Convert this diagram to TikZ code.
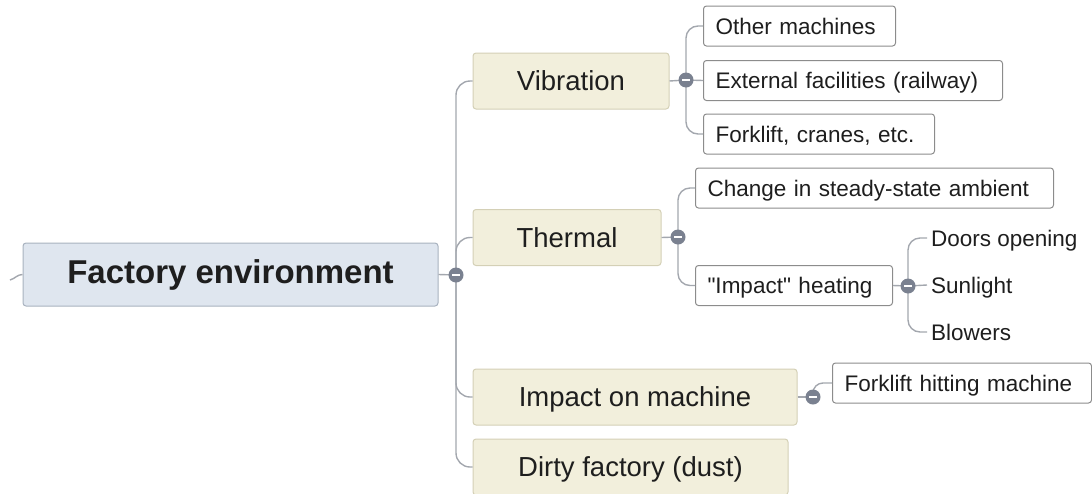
\documentclass[tikz,border=0pt]{standalone}
\usepackage{fontspec}
\setmainfont{Liberation Sans}
\newfontfamily\plainquotes{Liberation Sans}[Ligatures=ResetAll]
\definecolor{linegray}{HTML}{A3A7AE}
\definecolor{rootfill}{HTML}{DFE6EF}
\definecolor{rootborder}{HTML}{A8B2BF}
\definecolor{topfill}{HTML}{F2EFDC}
\definecolor{topborder}{HTML}{D4D0B6}
\definecolor{leafborder}{HTML}{8C8C8C}
\definecolor{knobgray}{HTML}{7A8190}
\definecolor{txt}{HTML}{1E1E1E}
\begin{document}
\begin{tikzpicture}[x=1pt,y=-1pt,
  conn/.style={draw=linegray, line width=1.4pt},
  rootbox/.style={draw=rootborder, fill=rootfill, rounded corners=3pt, line width=1pt,
    minimum width=415pt, minimum height=63pt, inner sep=0pt, text=txt,
    font=\fontsize{33}{38}\selectfont\bfseries, text height=17.6pt, text depth=0pt},
  topicbox/.style={draw=topborder, fill=topfill, rounded corners=3pt, line width=1pt,
    minimum width=#1, minimum height=56pt, inner sep=0pt, text=txt,
    font=\fontsize{27.5}{33}\selectfont, text height=19.7pt, text depth=0pt},
  leafbox/.style={draw=leafborder, fill=white, rounded corners=3pt, line width=1pt,
    inner xsep=12pt, inner ysep=0pt, minimum height=40pt, anchor=west,
    text width={#1-24pt}, align=left, text=txt,
    font=\fontsize{22.5}{27}\selectfont, text height=16.1pt, text depth=0pt},
  leaftext/.style={inner xsep=4pt, inner ysep=0pt, anchor=west, text=txt,
    font=\fontsize{22.5}{27}\selectfont, text height=16.1pt, text depth=0pt},
  knob/.style={circle, fill=knobgray, minimum size=15pt, inner sep=0pt,
    path picture={\draw[white, line width=2.2pt]
      ([xshift=-4pt]path picture bounding box.center) --
      ([xshift=4pt]path picture bounding box.center);}}
]
\clip (0,0) rectangle (1092,493);

% root and main topics
\node[rootbox] (root) at (230.5,274.5) {Factory environment};
\node[topicbox=196pt] (vib) at (571,81) {Vibration};
\node[topicbox=188pt] (therm) at (567,237.5) {Thermal};
\node[topicbox=324pt] (impact) at (635,397) {Impact on machine};
\node[topicbox=315pt] (dirty) at (630.5,467) {Dirty factory (dust)};

% vibration subtopics
\node[leafbox=192pt] (om) at (703,26) {Other machines};
\node[leafbox=299pt] (ef) at (703,80.5) {External facilities (railway)};
\node[leafbox=231pt] (fc) at (703,134) {Forklift, cranes, etc.};

% thermal subtopics
\node[leafbox=358pt] (cs) at (695,188) {Change in steady-state ambient};
\node[leafbox=197pt] (ih) at (695,285.5) {{\plainquotes"Impact"} heating};
\node[leaftext] (doors) at (927,238) {Doors opening};
\node[leaftext] (sun) at (927,285) {Sunlight};
\node[leaftext] (blow) at (927,332) {Blowers};

% impact subtopic
\node[leafbox=259pt] (fh) at (832,383) {Forklift hitting machine};

% collapse knobs (positions)
\coordinate (kroot) at (456,275);
\coordinate (kvib) at (686,80);
\coordinate (ktherm) at (678,237);
\coordinate (kih) at (908,286);
\coordinate (kimp) at (813,397);
\coordinate (stub) at (10,280);

% connectors
\draw[conn] (root.west) to[out=180,in=15] (stub);
\draw[conn] (root.east) -- (kroot);
\draw[conn, rounded corners=14pt] (vib.west) -| (kroot) |- (dirty.west);
\draw[conn, rounded corners=14pt] (kroot) |- (therm.west);
\draw[conn, rounded corners=14pt] (kroot) |- (impact.west);

\draw[conn] (vib.east) -- (kvib);
\draw[conn, rounded corners=12pt] (om.west) -| (kvib) |- (fc.west);
\draw[conn] (kvib) -- (ef.west);

\draw[conn] (therm.east) -- (ktherm);
\draw[conn, rounded corners=12pt] (cs.west) -| (ktherm) |- (ih.west);

\draw[conn] (ih.east) -- (kih);
\draw[conn, rounded corners=12pt] (doors.west) -| (kih) |- (blow.west);
\draw[conn] (kih) -- (sun.west);

\draw[conn] (impact.east) -- (kimp);
\draw[conn, rounded corners=10pt] (kimp) |- (fh.west);

% knobs on top
\node[knob] (kn1) at (kroot) {};
\node[knob] (kn2) at (kvib) {};
\node[knob] (kn3) at (ktherm) {};
\node[knob] (kn4) at (kih) {};
\node[knob] (kn5) at (kimp) {};
\end{tikzpicture}
\end{document}
